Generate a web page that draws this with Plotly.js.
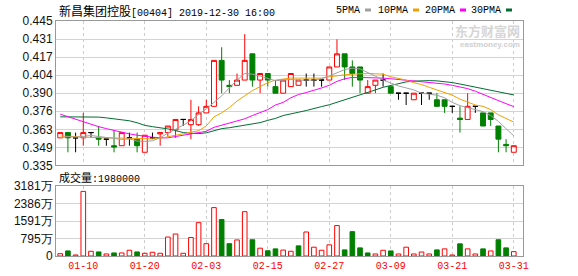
<!DOCTYPE html>
<html><head><meta charset="utf-8">
<script src="https://cdn.plot.ly/plotly-3.0.1.min.js"></script>
<style>html,body{margin:0;padding:0;background:#fff}#chart{width:578px;height:276px}</style>
</head><body><div id="chart"></div>
<script>
// ---- data ----
const openP  = [0.356,0.360,0.356,0.356,0.360,0.356,0.355,0.350,0.350,0.356,0.355,0.345,0.356,0.359,0.360,0.362,0.370,0.366,0.366,0.375,
                0.380,0.415,0.396,0.396,0.400,0.420,0.400,0.405,0.395,0.390,0.395,0.396,0.400,0.400,0.400,0.400,0.410,0.420,0.410,0.410,
                0.390,0.396,0.400,0.395,0.390,0.390,0.385,0.390,0.390,0.385,0.385,0.380,0.371,0.370,0.380,0.375,0.375,0.365,0.351,0.345];
const highP  = [0.360,0.360,0.360,0.375,0.360,0.365,0.355,0.362,0.360,0.360,0.360,0.358,0.360,0.360,0.365,0.370,0.370,0.385,0.380,0.385,
                0.415,0.425,0.400,0.405,0.435,0.420,0.405,0.405,0.400,0.400,0.405,0.400,0.405,0.405,0.400,0.410,0.431,0.420,0.415,0.410,
                0.400,0.400,0.405,0.395,0.390,0.390,0.390,0.390,0.390,0.390,0.385,0.380,0.380,0.390,0.380,0.375,0.375,0.365,0.355,0.350];
const lowP   = [0.356,0.345,0.345,0.350,0.356,0.350,0.350,0.345,0.350,0.350,0.345,0.345,0.355,0.350,0.357,0.356,0.365,0.355,0.365,0.375,
                0.380,0.390,0.390,0.396,0.400,0.395,0.390,0.395,0.390,0.390,0.395,0.396,0.395,0.395,0.395,0.400,0.410,0.400,0.395,0.390,
                0.390,0.390,0.395,0.390,0.385,0.381,0.385,0.381,0.385,0.380,0.375,0.375,0.360,0.370,0.375,0.365,0.365,0.345,0.345,0.345];
const closeP = [0.360,0.356,0.356,0.360,0.360,0.355,0.355,0.349,0.360,0.356,0.350,0.358,0.356,0.360,0.365,0.370,0.370,0.370,0.375,0.380,
                0.415,0.400,0.395,0.400,0.415,0.400,0.405,0.400,0.390,0.400,0.405,0.400,0.400,0.400,0.400,0.410,0.420,0.410,0.405,0.400,
                0.395,0.400,0.400,0.390,0.390,0.390,0.390,0.390,0.390,0.380,0.380,0.380,0.370,0.380,0.380,0.365,0.370,0.355,0.350,0.350];
// volume in 万 shares
const volume = [106,230,46,2936,215,184,92,138,138,261,184,123,169,123,861,1000,123,840,1515,560,
                2199,1660,560,730,2014,738,355,238,323,270,215,461,1091,400,261,507,1383,277,1106,369,
                138,92,261,230,92,400,92,180,92,277,323,46,553,323,92,323,230,738,369,198];
// 1 = volume bar drawn as up (red), 0 = down (green)
const volUp  = [1,0,1,1,1,0,1,0,1,1,0,1,1,1,1,1,1,1,1,1,
                1,0,0,1,1,0,1,0,0,1,1,0,1,1,1,1,1,0,0,0,
                0,1,1,0,1,1,1,1,1,0,1,1,0,1,1,0,1,0,0,1];
const ma5  = [0.356,0.357,0.3565,0.357,0.3578,0.357,0.3562,0.3555,0.3548,0.3552,0.3535,0.3533,0.3538,0.356,0.3596,0.3625,0.3655,0.369,0.374,0.378,
              0.383,0.388,0.394,0.400,0.405,0.4045,0.403,0.401,0.3995,0.400,0.4005,0.400,0.400,0.400,0.401,0.403,0.4055,0.408,0.409,0.4085,
              0.406,0.403,0.400,0.3975,0.3955,0.394,0.3925,0.390,0.389,0.3885,0.3865,0.383,0.3805,0.379,0.378,0.376,0.373,0.3685,0.363,0.3575];
const ma10 = [0.3574,0.357,0.3567,0.3564,0.3563,0.3562,0.3561,0.3559,0.3557,0.3556,0.3554,0.3552,0.3552,0.3556,0.357,0.358,0.359,0.360,0.3615,0.365,
              0.372,0.375,0.379,0.384,0.388,0.392,0.395,0.398,0.400,0.401,0.4015,0.4015,0.4015,0.4015,0.4015,0.4025,0.4035,0.404,0.4045,0.405,
              0.405,0.4048,0.4045,0.4025,0.4015,0.400,0.398,0.3966,0.3945,0.3925,0.3905,0.3885,0.3855,0.383,0.381,0.380,0.3775,0.3735,0.3705,0.368];
const ma20 = [0.374,0.372,0.370,0.368,0.366,0.3645,0.363,0.3615,0.360,0.359,0.358,0.357,0.3565,0.356,0.356,0.357,0.358,0.3588,0.3595,0.361,
              0.364,0.3655,0.367,0.3685,0.3705,0.373,0.375,0.3775,0.381,0.383,0.3865,0.389,0.3905,0.392,0.394,0.396,0.399,0.401,0.402,0.402,
              0.402,0.4018,0.4015,0.401,0.4005,0.400,0.3995,0.399,0.3985,0.3978,0.397,0.396,0.395,0.3935,0.3915,0.389,0.3866,0.3845,0.382,0.3798];
const ma30 = [0.372,0.372,0.372,0.372,0.372,0.3718,0.3712,0.3706,0.370,0.369,0.3675,0.3655,0.3645,0.3638,0.3628,0.3615,0.360,0.3595,0.3592,0.3598,
              0.3615,0.363,0.3637,0.3647,0.3656,0.3665,0.3676,0.3693,0.3708,0.373,0.3745,0.3755,0.3768,0.3785,0.3798,0.3812,0.383,0.3851,0.387,0.3888,
              0.3905,0.3925,0.3945,0.396,0.3975,0.3986,0.3992,0.3996,0.3996,0.3994,0.3989,0.3981,0.397,0.3958,0.3946,0.3933,0.392,0.3908,0.3897,0.3887];
const tickCandle = [3,11,19,27,35,43,51,59];
const tickLabels = ['01-10','01-20','02-03','02-15','02-27','03-09','03-21','03-31'];
const priceTicks = [0.335,0.34875,0.3625,0.37625,0.39,0.40375,0.4175,0.43125,0.445];
const priceTickText = ['0.335','0.349','0.363','0.376','0.390','0.404','0.417','0.431','0.445'];
const volTicks = [0,795.25,1590.5,2385.75,3181];
const volTickText = ['0','795万','1591万','2386万','3181万'];
const maNames = ['5PMA','10PMA','20PMA','30PMA'];
const titleName = '新昌集团控股';
const titleRest = '[00404] 2019-12-30 16:00';
const lastVolText = '1980000';

// ---- drawing ----
const RED = '#ff0000', GREEN = '#008000', BLACK = '#000000';
const maColors = ['#a0a0a0','#f0a000','#ff00ff','#006e32'];
const xs = openP.map((_, i) => i);
const kind = openP.map((o, i) => closeP[i] > o ? 'up' : (closeP[i] < o ? 'down' : 'flat'));

function candles(k, lineColor, fill) {
  const idx = xs.filter(i => kind[i] === k);
  return {
    type: 'candlestick', xaxis: 'x', yaxis: 'y',
    x: idx, open: idx.map(i => openP[i]), high: idx.map(i => highP[i]),
    low: idx.map(i => lowP[i]), close: idx.map(i => closeP[i]),
    increasing: {line: {color: lineColor, width: 1}, fillcolor: fill},
    decreasing: {line: {color: lineColor, width: 1}, fillcolor: fill},
    whiskerwidth: 0, hoverinfo: 'skip', showlegend: false
  };
}

const traces = [];
[ma30, ma20, ma10, ma5].forEach((arr, j) => {
  const c = maColors[3 - j];
  traces.push({type: 'scatter', mode: 'lines', x: xs, y: arr, xaxis: 'x', yaxis: 'y',
    line: {color: c, width: 1}, hoverinfo: 'skip', showlegend: false});
});
traces.push(candles('up', RED, '#ffffff'));
traces.push(candles('down', GREEN, GREEN));
traces.push(candles('flat', BLACK, BLACK));
traces.push({
  type: 'bar', x: xs, y: volume, xaxis: 'x', yaxis: 'y2', width: 0.6,
  marker: {color: volUp.map(u => u ? '#ffffff' : GREEN),
           line: {color: volUp.map(u => u ? RED : GREEN), width: 1}},
  hoverinfo: 'skip', showlegend: false
});

const L = 56, R = 523, T = 21, B = 256, H = 276;
const px = v => (v - L) / (R - L);
const py = v => (B - v) / (B - T);

const monoFont = {family: 'Liberation Mono, Noto Sans CJK SC, monospace', size: 10, color: '#000'};
const annotations = [];
annotations.push({xref: 'paper', yref: 'paper', x: px(57), y: py(10), xanchor: 'left', yanchor: 'middle',
  showarrow: false, font: monoFont,
  text: '<span style="font-family:Noto Sans CJK SC;font-size:12px">' + titleName + '</span>' + titleRest});
annotations.push({xref: 'paper', yref: 'paper', x: px(57), y: py(177), xanchor: 'left', yanchor: 'middle',
  showarrow: false, font: monoFont,
  text: '<span style="font-family:Noto Sans CJK SC;font-size:11px">成交量</span>:' + lastVolText});
const legRight = [362, 410, 457, 503];
const sqLeft = [365, 413, 460, 506];
const shapes = [];
maNames.forEach((nm, j) => {
  annotations.push({xref: 'paper', yref: 'paper', x: px(legRight[j]), y: py(10), xanchor: 'right', yanchor: 'middle',
    showarrow: false, font: monoFont, text: nm});
  shapes.push({type: 'rect', xref: 'paper', yref: 'paper', x0: px(sqLeft[j]), x1: px(sqLeft[j] + 6),
    y0: py(11.5), y1: py(8.5), fillcolor: maColors[j], line: {width: 0}});
});
// watermark
annotations.push({xref: 'paper', yref: 'paper', x: px(522), y: py(30), xanchor: 'right', yanchor: 'middle',
  showarrow: false, text: '<b>东方财富网</b>', font: {family: 'Noto Sans CJK SC', size: 13, color: '#d6d6d6'}});
annotations.push({xref: 'paper', yref: 'paper', x: px(522), y: py(44), xanchor: 'right', yanchor: 'middle',
  showarrow: false, text: '<b>eastmoney.com</b>', font: {family: 'Liberation Sans', size: 8, color: '#d0d0d0'}});

const axisFont = {family: 'Liberation Sans, Arial, sans-serif', size: 12, color: '#111'};
const layout = {
  width: 578, height: 276,
  margin: {l: L, r: 578 - R, t: T, b: H - B, pad: 0},
  paper_bgcolor: '#ffffff', plot_bgcolor: '#ffffff',
  showlegend: false, boxgap: 0.2, boxgroupgap: 0.2, bargap: 0,
  xaxis: {
    anchor: 'y2', range: [-0.55, 60.2], tickmode: 'array',
    tickvals: tickCandle, ticktext: tickLabels,
    tickfont: {family: 'Liberation Mono, monospace', size: 10, color: RED},
    showgrid: true, gridcolor: '#cccccc', griddash: '3px,3px', gridwidth: 1,
    showline: true, mirror: 'all', linecolor: '#999999', linewidth: 1,
    zeroline: false, ticks: '', rangeslider: {visible: false}, fixedrange: true
  },
  yaxis: {
    domain: [py(165.4), 1], range: [0.335, 0.445], tickmode: 'array',
    tickvals: priceTicks, ticktext: priceTickText, tickfont: axisFont,
    showgrid: true, gridcolor: '#d3d3d3', gridwidth: 1,
    showline: true, mirror: true, linecolor: '#999999', linewidth: 1,
    zeroline: false, ticks: '', fixedrange: true
  },
  yaxis2: {
    domain: [0, py(186)], range: [0, 3181], tickmode: 'array',
    tickvals: volTicks, ticktext: volTickText, tickfont: axisFont,
    showgrid: true, gridcolor: '#d3d3d3', gridwidth: 1,
    showline: true, mirror: true, linecolor: '#999999', linewidth: 1,
    zeroline: false, ticks: '', fixedrange: true
  },
  annotations: annotations, shapes: shapes
};
Plotly.newPlot('chart', traces, layout, {displayModeBar: false, staticPlot: true});
</script>
</body></html>
